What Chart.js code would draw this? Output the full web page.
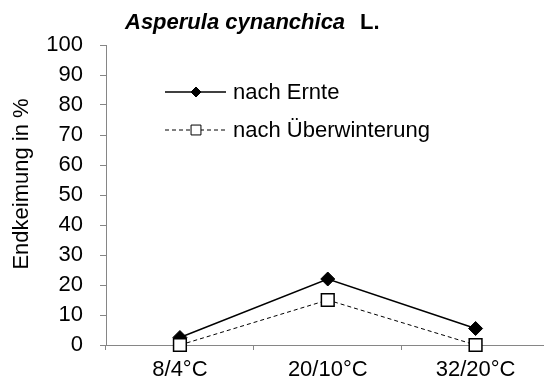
<!DOCTYPE html>
<html>
<head>
<meta charset="utf-8">
<script src="https://cdn.jsdelivr.net/npm/chart.js@4/dist/chart.umd.min.js"></script>
<style>
  html, body { margin: 0; padding: 0; background: #fff; overflow: hidden; }
  #wrap { position: absolute; left: 0; top: 0; width: 560px; height: 384px; }
</style>
</head>
<body>
<div id="wrap"><canvas id="c" width="560" height="384"></canvas></div>
<script>
// Temperaturregime (Tag/Nacht)
const categories = ['8/4°C', '20/10°C', '32/20°C'];
// Endkeimung in %
const nachErnte = [2.5, 22, 5.5];
const nachUeberwinterung = [0, 15, 0];
const yTicks = { min: 0, max: 100, step: 10 };

const FONT = '"Liberation Sans", Arial, sans-serif';
const AXIS = '#868686';
const SIZE = 22;

// Titel, Achsentitel und Legende selbst zeichnen (gemischte Schrift im Titel)
const extras = {
  id: 'extras',
  afterDraw(chart) {
    const ctx = chart.ctx;
    ctx.save();
    ctx.fillStyle = '#000';
    ctx.textBaseline = 'middle';

    // Titel
    ctx.font = 'italic bold ' + SIZE + 'px ' + FONT;
    ctx.textAlign = 'left';
    ctx.fillText('Asperula cynanchica', 125, 23);
    ctx.font = 'bold ' + SIZE + 'px ' + FONT;
    ctx.fillText('L.', 360, 23);

    // y-Achsentitel
    ctx.save();
    ctx.translate(22, 184);
    ctx.rotate(-Math.PI / 2);
    ctx.textAlign = 'center';
    ctx.font = SIZE + 'px ' + FONT;
    ctx.fillText('Endkeimung in %', 0, 0);
    ctx.restore();

    // Legende
    const rows = [
      { ds: chart.data.datasets[0], y: 92, r: 5, fill: '#000' },
      { ds: chart.data.datasets[1], y: 130, r: 7, fill: '#fff' },
    ];
    rows.forEach(({ ds, y, r, fill }) => {
      ctx.save();
      ctx.strokeStyle = ds.borderColor;
      ctx.lineWidth = ds.borderWidth;
      ctx.setLineDash(ds.borderDash || []);
      ctx.beginPath();
      ctx.moveTo(165, y);
      ctx.lineTo(226, y);
      ctx.stroke();
      ctx.restore();
      ctx.save();
      ctx.fillStyle = fill;
      ctx.strokeStyle = '#000';
      ctx.lineWidth = 1;
      Chart.helpers.drawPoint(ctx, {
        pointStyle: ds.pointStyle,
        radius: r,
        borderWidth: 1,
      }, 196, y);
      ctx.restore();
      ctx.fillStyle = '#000';
      ctx.font = SIZE + 'px ' + FONT;
      ctx.textAlign = 'left';
      ctx.fillText(ds.label, 233, y + 1);
    });
    ctx.restore();
  },
};

new Chart(document.getElementById('c'), {
  type: 'line',
  data: {
    labels: categories,
    datasets: [
      {
        label: 'nach Ernte',
        data: nachErnte,
        borderColor: '#000',
        borderWidth: 1.5,
        pointStyle: 'rectRot',
        pointRadius: 7,
        pointBackgroundColor: '#000',
        pointBorderColor: '#000',
        pointBorderWidth: 1,
        order: 1,
        clip: false,
      },
      {
        label: 'nach Überwinterung',
        data: nachUeberwinterung,
        borderColor: '#000',
        borderWidth: 1,
        borderDash: [4, 3],
        pointStyle: 'rect',
        pointRadius: 9,
        pointBackgroundColor: '#fff',
        pointBorderColor: '#000',
        pointBorderWidth: 1.5,
        order: 0,
        clip: false,
      },
    ],
  },
  options: {
    responsive: false,
    animation: false,
    layout: { padding: { left: 0, top: 45, right: 8, bottom: 0 } },
    plugins: {
      legend: { display: false },
      tooltip: { enabled: false },
      title: { display: false },
    },
    scales: {
      x: {
        offset: true,
        grid: { display: true, offset: true, drawOnChartArea: false, tickLength: 5, color: AXIS },
        border: { color: AXIS, width: 1 },
        ticks: { color: '#000', font: { family: FONT, size: SIZE }, padding: 7, maxRotation: 0 },
        afterFit: (s) => { s.height = 39; },
      },
      y: {
        min: yTicks.min,
        max: yTicks.max,
        grid: { display: true, drawOnChartArea: false, tickLength: 6, color: AXIS },
        border: { color: AXIS, width: 1 },
        ticks: { stepSize: yTicks.step, color: '#000', font: { family: FONT, size: SIZE }, padding: 17 },
        afterFit: (s) => { s.width = 106; },
      },
    },
  },
  plugins: [extras],
});
</script>
</body>
</html>
